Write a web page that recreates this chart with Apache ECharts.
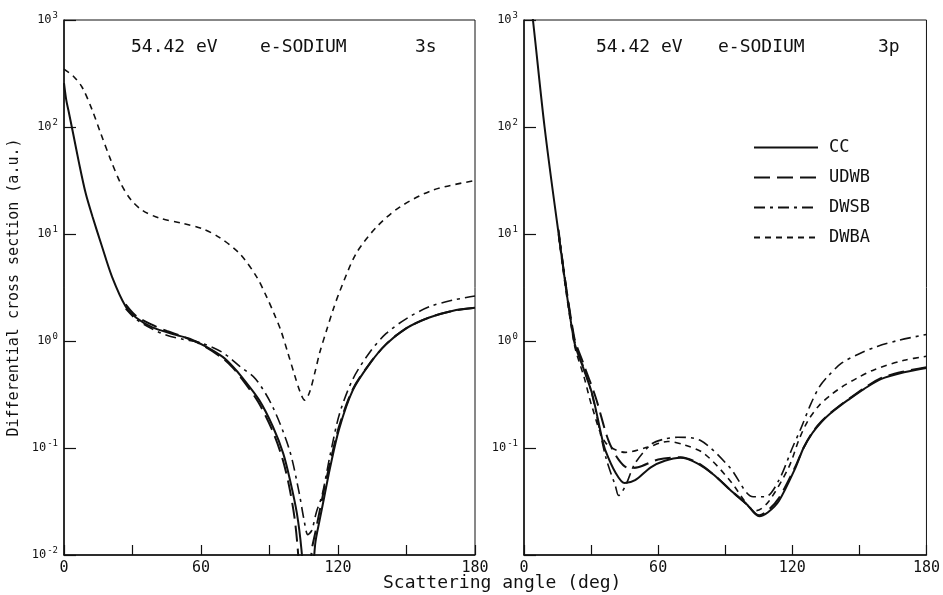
<!DOCTYPE html>
<html>
<head>
<meta charset="utf-8">
<script src="https://cdn.jsdelivr.net/npm/echarts@6/dist/echarts.min.js"></script>
<style>
  html, body { margin: 0; padding: 0; background: #fff; }
  #main { width: 943px; height: 595px; }
</style>
</head>
<body>
<div id="main"></div>
<script>
// scattering angles (deg) and cross sections (a.u.)
// --- 3s panel ---
const ccAng3s = [0, 1, 2, 4, 6.5, 9.5, 12.5, 16.5, 21, 27, 31.5, 38.5, 49, 55, 62, 69.5, 74, 78, 85.5, 91.5, 96, 99, 102, 104, 105.5, 107, 108.5, 110, 112, 114, 116.5, 120.5, 126.5, 134, 141, 150, 160, 170, 180];
const cc3s = [257, 178, 141, 87, 47, 24, 14.5, 7.8, 4.0, 2.1, 1.66, 1.35, 1.14, 1.05, 0.89, 0.71, 0.575, 0.457, 0.28, 0.158, 0.089, 0.050, 0.0245, 0.0112, 0.004, 0.001, 0.004, 0.0126, 0.0214, 0.035, 0.065, 0.151, 0.347, 0.617, 0.93, 1.32, 1.66, 1.91, 2.04];

const udwbAng3s = [27, 31.5, 38.5, 45, 52, 60, 69.5, 74, 78, 85, 91, 95.5, 98.5, 101, 102.5, 104, 105.5, 107, 108.5, 110, 112, 114, 116.5, 120.5, 126.5, 134, 141, 150, 160, 170, 180];
const udwb3s = [2.2, 1.72, 1.42, 1.24, 1.10, 0.93, 0.69, 0.56, 0.44, 0.27, 0.15, 0.082, 0.045, 0.022, 0.0105, 0.003, 0.001, 0.003, 0.011, 0.016, 0.026, 0.042, 0.072, 0.16, 0.355, 0.62, 0.93, 1.32, 1.66, 1.91, 2.04];

const dwsbAng3s = [27, 31.5, 38.5, 45, 52, 60, 69.5, 77, 84, 91.5, 98.8, 103, 105, 106.8, 108.5, 110.5, 113, 116.5, 120.7, 126.5, 134, 141, 150, 160, 170, 180];
const dwsb3s = [2.0, 1.6, 1.30, 1.13, 1.04, 0.96, 0.78, 0.58, 0.44, 0.24, 0.095, 0.038, 0.022, 0.0155, 0.017, 0.025, 0.036, 0.085, 0.21, 0.44, 0.79, 1.17, 1.62, 2.09, 2.40, 2.63];

const dwbaAng3s = [0, 4, 8, 12.3, 16.1, 20.5, 24.9, 29.3, 34.4, 41.7, 51.8, 60.6, 68, 76.8, 84.3, 88.7, 92, 95, 98, 101, 103.5, 105.4, 107.5, 110, 112, 115, 118, 121, 128, 137, 147, 161.5, 180];
const dwba3s = [347, 300, 234, 145, 87, 49, 29.5, 20.9, 16.6, 14.1, 12.6, 11.2, 9.3, 6.6, 4.0, 2.6, 1.8, 1.25, 0.78, 0.48, 0.33, 0.28, 0.33, 0.52, 0.78, 1.26, 2.0, 3.0, 6.6, 11.7, 17.8, 25.7, 31.6];

// --- 3p panel ---
const ccAng3p = [0, 4, 9.2, 15.5, 22.4, 26.5, 30.5, 34.8, 36.4, 40.9, 45, 49.7, 56.7, 63, 70, 77.5, 85, 92, 99.5, 105.2, 109, 114, 121.5, 125, 129, 133, 137, 141, 144.8, 152, 159.6, 170, 180];
const cc3p = [5000, 1000, 100, 10, 1, 0.56, 0.32, 0.126, 0.095, 0.059, 0.047, 0.050, 0.066, 0.076, 0.081, 0.072, 0.056, 0.041, 0.030, 0.023, 0.025, 0.032, 0.066, 0.10, 0.138, 0.175, 0.21, 0.245, 0.28, 0.355, 0.44, 0.51, 0.56];

const udwbAng3p = [15.5, 22.4, 26.5, 32, 37.8, 42.3, 46.7, 51, 60, 70, 77.5, 85, 92, 99.5, 105.2, 109, 114, 121.5, 125, 129, 133, 137, 141, 144.8, 152, 159.6, 170, 180];
const udwb3p = [10, 1.1, 0.62, 0.30, 0.117, 0.078, 0.065, 0.066, 0.078, 0.082, 0.073, 0.056, 0.041, 0.030, 0.0235, 0.026, 0.034, 0.068, 0.10, 0.14, 0.177, 0.212, 0.247, 0.282, 0.36, 0.45, 0.52, 0.57];

const dwsbAng3p = [15.5, 22.4, 26.5, 30.5, 36.5, 40.9, 42.3, 45.3, 49.7, 56.8, 62, 68.7, 78.8, 92, 102.5, 108, 114, 120, 124, 128, 132, 136, 142, 150, 158, 168, 180];
const dwsb3p = [11, 1.05, 0.58, 0.31, 0.083, 0.044, 0.036, 0.044, 0.072, 0.108, 0.12, 0.126, 0.118, 0.066, 0.035, 0.035, 0.05, 0.10, 0.155, 0.25, 0.37, 0.47, 0.62, 0.76, 0.89, 1.02, 1.15];

const dwbaAng3p = [15.5, 22.4, 27, 30.5, 36.5, 45.3, 55.5, 64.3, 71.7, 80.5, 92, 100.8, 104, 109.6, 118.4, 123, 127, 132, 137, 142, 149, 156.7, 170, 180];
const dwba3p = [9.5, 0.95, 0.45, 0.24, 0.112, 0.091, 0.102, 0.115, 0.107, 0.089, 0.050, 0.028, 0.026, 0.032, 0.066, 0.12, 0.18, 0.25, 0.31, 0.37, 0.45, 0.54, 0.66, 0.72];

const xTickLabels = [0, 60, 120, 180];
const seriesNames = ['CC', 'UDWB', 'DWSB', 'DWBA'];

const FONT = 'DejaVu Sans Mono';
const INK = '#111';

function zip(a, b) {
    return a.map((x, i) => [x, b[i]]);
}

const styles = {
    CC: { type: 'solid', width: 2 },
    UDWB: { type: [16, 7], width: 2 },
    DWSB: { type: [11, 5, 3, 5], width: 1.6 },
    DWBA: { type: [6, 5], width: 1.6 }
};

function lineSeries(name, idx, ang, val) {
    return {
        name: name,
        type: 'line',
        xAxisIndex: idx,
        yAxisIndex: idx,
        data: zip(ang, val),
        showSymbol: false,
        symbol: 'none',
        smooth: 0.3,
        clip: true,
        color: INK,
        lineStyle: Object.assign({ color: INK }, styles[name]),
        z: name === 'CC' ? 5 : 3
    };
}

function xAxis(idx) {
    return {
        type: 'value',
        gridIndex: idx,
        min: 0,
        max: 180,
        interval: 30,
        axisLine: { lineStyle: { color: INK, width: 1.5 } },
        axisTick: { inside: true, length: 10, lineStyle: { color: INK, width: 1.2 } },
        axisLabel: {
            color: INK, fontSize: 15, fontFamily: FONT, margin: 6,
            formatter: v => xTickLabels.indexOf(v) >= 0 ? String(v) : ''
        },
        splitLine: { show: false }
    };
}

function yAxis(idx, showBottom) {
    return {
        type: 'log',
        logBase: 10,
        gridIndex: idx,
        min: 0.01,
        max: 1000,
        splitNumber: 5,
        name: idx === 0 ? 'Differential cross section (a.u.)' : '',
        nameLocation: 'middle',
        nameGap: 42,
        nameTextStyle: { color: INK, fontSize: 15, fontFamily: FONT },
        axisLine: { show: true, lineStyle: { color: INK, width: 1.5 } },
        axisTick: { inside: true, length: 12, lineStyle: { color: INK, width: 1.2 } },
        axisLabel: {
            margin: 6,
            formatter: v => {
                const e = Math.round(Math.log10(v));
                if (!showBottom && e === -2) return '';
                return '{b|10}{s|' + e + '}';
            },
            rich: {
                b: { fontSize: 12, color: INK, fontFamily: FONT },
                s: { fontSize: 9, color: INK, fontFamily: FONT, padding: [0, 0, 9, 1] }
            }
        },
        splitLine: { show: false },
        minorTick: { show: false }
    };
}

function titleText(text, left) {
    return {
        text: text,
        left: left,
        top: 33,
        textStyle: { color: INK, fontSize: 18, fontWeight: 'normal', fontFamily: FONT }
    };
}

const chart = echarts.init(document.getElementById('main'), null, { renderer: 'canvas' });

const option = {
    backgroundColor: '#fff',
    animation: false,
    title: [
        titleText('54.42 eV', 126),
        titleText('e-SODIUM', 255),
        titleText('3s', 410),
        titleText('54.42 eV', 591),
        titleText('e-SODIUM', 713),
        titleText('3p', 873)
    ],
    legend: {
        orient: 'vertical',
        left: 748,
        top: 134,
        itemWidth: 64,
        itemHeight: 14,
        itemGap: 13,
        data: seriesNames,
        itemStyle: { opacity: 0 },
        textStyle: { color: INK, fontSize: 17, fontFamily: FONT, padding: [0, 0, 0, 6] },
        inactiveColor: INK
    },
    grid: [
        { left: 64, top: 20, width: 411, height: 535, show: true, borderColor: INK, borderWidth: 1 },
        { left: 524, top: 20, width: 409, height: 535, show: true, borderColor: INK, borderWidth: 1 }
    ],
    xAxis: [xAxis(0), xAxis(1)],
    yAxis: [yAxis(0, true), yAxis(1, false)],
    graphic: [{
        type: 'text',
        left: 383,
        top: 574,
        style: { text: 'Scattering angle (deg)', fill: INK, font: '18px "DejaVu Sans Mono"' }
    }],
    series: [
        lineSeries('CC', 0, ccAng3s, cc3s),
        lineSeries('UDWB', 0, udwbAng3s, udwb3s),
        lineSeries('DWSB', 0, dwsbAng3s, dwsb3s),
        lineSeries('DWBA', 0, dwbaAng3s, dwba3s),
        lineSeries('CC', 1, ccAng3p, cc3p),
        lineSeries('UDWB', 1, udwbAng3p, udwb3p),
        lineSeries('DWSB', 1, dwsbAng3p, dwsb3p),
        lineSeries('DWBA', 1, dwbaAng3p, dwba3p)
    ]
};

chart.setOption(option);
</script>
</body>
</html>
